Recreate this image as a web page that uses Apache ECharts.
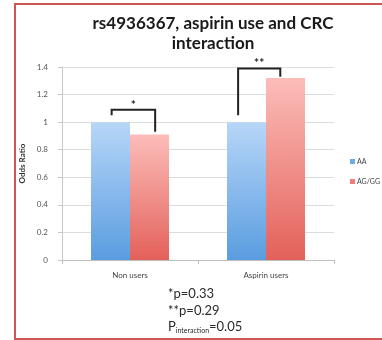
<!DOCTYPE html>
<html>
<head>
<meta charset="utf-8">
<script src="https://cdn.jsdelivr.net/npm/echarts@6/dist/echarts.min.js"></script>
<style>
  html, body { margin: 0; padding: 0; background: #fff; }
  #chart { width: 382px; height: 340px; }
</style>
</head>
<body>
<div id="chart"></div>
<script>
// Odds ratios by aspirin use and rs4936367 genotype
const categories = ['Non users', 'Aspirin users'];
const seriesNames = ['AA', 'AG/GG'];
const aaValues = [1.0, 1.0];
const agValues = [0.91, 1.32];

// Comparison brackets: [category index, bracket top, left leg end, right leg end]
const brackets = [
  [0, 1.09, 1.05, 0.93],
  [1, 1.39, 1.05, 1.33]
];
const bracketMarks = ['*', '**'];

// Footnote lines
const pNotes = ['*p=0.33', '**p=0.29'];
const pInteraction = '0.05';

const FONT = 'Lato, "Open Sans", sans-serif';
const chart = echarts.init(document.getElementById('chart'), null, { renderer: 'canvas' });

function grad(top, bottom) {
  return new echarts.graphic.LinearGradient(0, 0, 0, 1, [
    { offset: 0, color: top },
    { offset: 1, color: bottom }
  ]);
}

chart.setOption({
  animation: false,
  backgroundColor: '#ffffff',
  title: {
    text: 'rs4936367, aspirin use and CRC\ninteraction',
    left: 208,
    textAlign: 'center',
    top: 9,
    textStyle: {
      fontFamily: FONT,
      fontSize: 17,
      fontWeight: 'bold',
      color: '#1a1a1a',
      lineHeight: 20
    }
  },
  legend: {
    orient: 'vertical',
    left: 345,
    top: 153,
    itemWidth: 5,
    itemHeight: 5,
    itemGap: 13,
    icon: 'rect',
    textStyle: { fontFamily: FONT, fontSize: 7, color: '#444', padding: [0, 0, 0, -3] },
    data: [
      { name: seriesNames[0], itemStyle: { color: '#6fa9e6' } },
      { name: seriesNames[1], itemStyle: { color: '#ec7f79' } }
    ]
  },
  grid: { left: 62, right: 48, top: 67, bottom: 80 },
  xAxis: {
    type: 'category',
    data: categories,
    axisLine: { lineStyle: { color: '#bdbdbd', width: 1 } },
    axisTick: { show: true, length: 4, lineStyle: { color: '#bdbdbd' } },
    axisLabel: { fontFamily: FONT, fontSize: 8, color: '#444', margin: 11 }
  },
  yAxis: {
    type: 'value',
    min: 0,
    max: 1.4,
    interval: 0.2,
    name: 'Odds Ratio',
    nameLocation: 'middle',
    nameRotate: 90,
    nameGap: 29,
    nameTextStyle: { fontFamily: FONT, fontSize: 8, fontWeight: 'bold', color: '#333' },
    axisLine: { show: true, lineStyle: { color: '#c8c8c8' } },
    axisTick: { show: true, length: 4, lineStyle: { color: '#c8c8c8' } },
    axisLabel: { fontFamily: FONT, fontSize: 8, color: '#555', margin: 14 },
    splitLine: { lineStyle: { color: '#dcdcdc', width: 1 } }
  },
  series: [
    {
      name: seriesNames[0],
      type: 'bar',
      data: aaValues,
      barWidth: 39,
      barGap: '0%',
      itemStyle: { color: grad('#b7d6f8', '#5a9de0') }
    },
    {
      name: seriesNames[1],
      type: 'bar',
      data: agValues,
      barWidth: 39,
      barGap: '0%',
      itemStyle: { color: grad('#fcbdb9', '#e3615a') }
    },
    {
      name: 'brackets',
      type: 'custom',
      silent: true,
      z: 10,
      data: brackets,
      encode: { x: 0, y: 1 },
      renderItem: function (params, api) {
        const cat = api.value(0);
        const top = api.coord([cat, api.value(1)]);
        const leftEnd = api.coord([cat, api.value(2)]);
        const rightEnd = api.coord([cat, api.value(3)]);
        const band = api.size([1, 0])[0];
        // leg positions relative to category centre
        const legOffsets = [[-0.135, 0.185], [-0.205, 0.105]];
        const off = legOffsets[params.dataIndex];
        const xl = top[0] + band * off[0];
        const xr = top[0] + band * off[1];
        return {
          type: 'group',
          children: [
            {
              type: 'polyline',
              shape: { points: [[xl, leftEnd[1]], [xl, top[1]], [xr, top[1]], [xr, rightEnd[1]]] },
              style: { stroke: '#222', lineWidth: 2, fill: null }
            },
            {
              type: 'text',
              style: {
                x: (xl + xr) / 2,
                y: top[1] - 5,
                text: bracketMarks[params.dataIndex],
                fontFamily: FONT,
                fontSize: 12,
                fontWeight: 'bold',
                fill: '#222',
                align: 'center',
                verticalAlign: 'middle'
              }
            }
          ]
        };
      }
    }
  ],
  graphic: [
    {
      type: 'rect',
      silent: true,
      shape: { x: 15, y: 4, width: 380, height: 335 },
      style: { fill: null, stroke: '#cf5652', lineWidth: 2 }
    },
    {
      type: 'text',
      left: 168,
      top: 285,
      style: {
        text: pNotes.join('\n'),
        fontFamily: FONT,
        fontSize: 13,
        lineHeight: 17,
        fill: '#2a2a2a'
      }
    },
    {
      type: 'text',
      left: 168,
      top: 320,
      style: {
        text: '{p|P}{s|interaction}{p|=' + pInteraction + '}',
        rich: {
          p: { fontFamily: FONT, fontSize: 13, fill: '#2a2a2a', lineHeight: 15, verticalAlign: 'top' },
          s: { fontFamily: FONT, fontSize: 7, fill: '#2a2a2a', lineHeight: 15, padding: [7, 0, 0, 0], verticalAlign: 'top' }
        }
      }
    }
  ]
});
</script>
</body>
</html>
